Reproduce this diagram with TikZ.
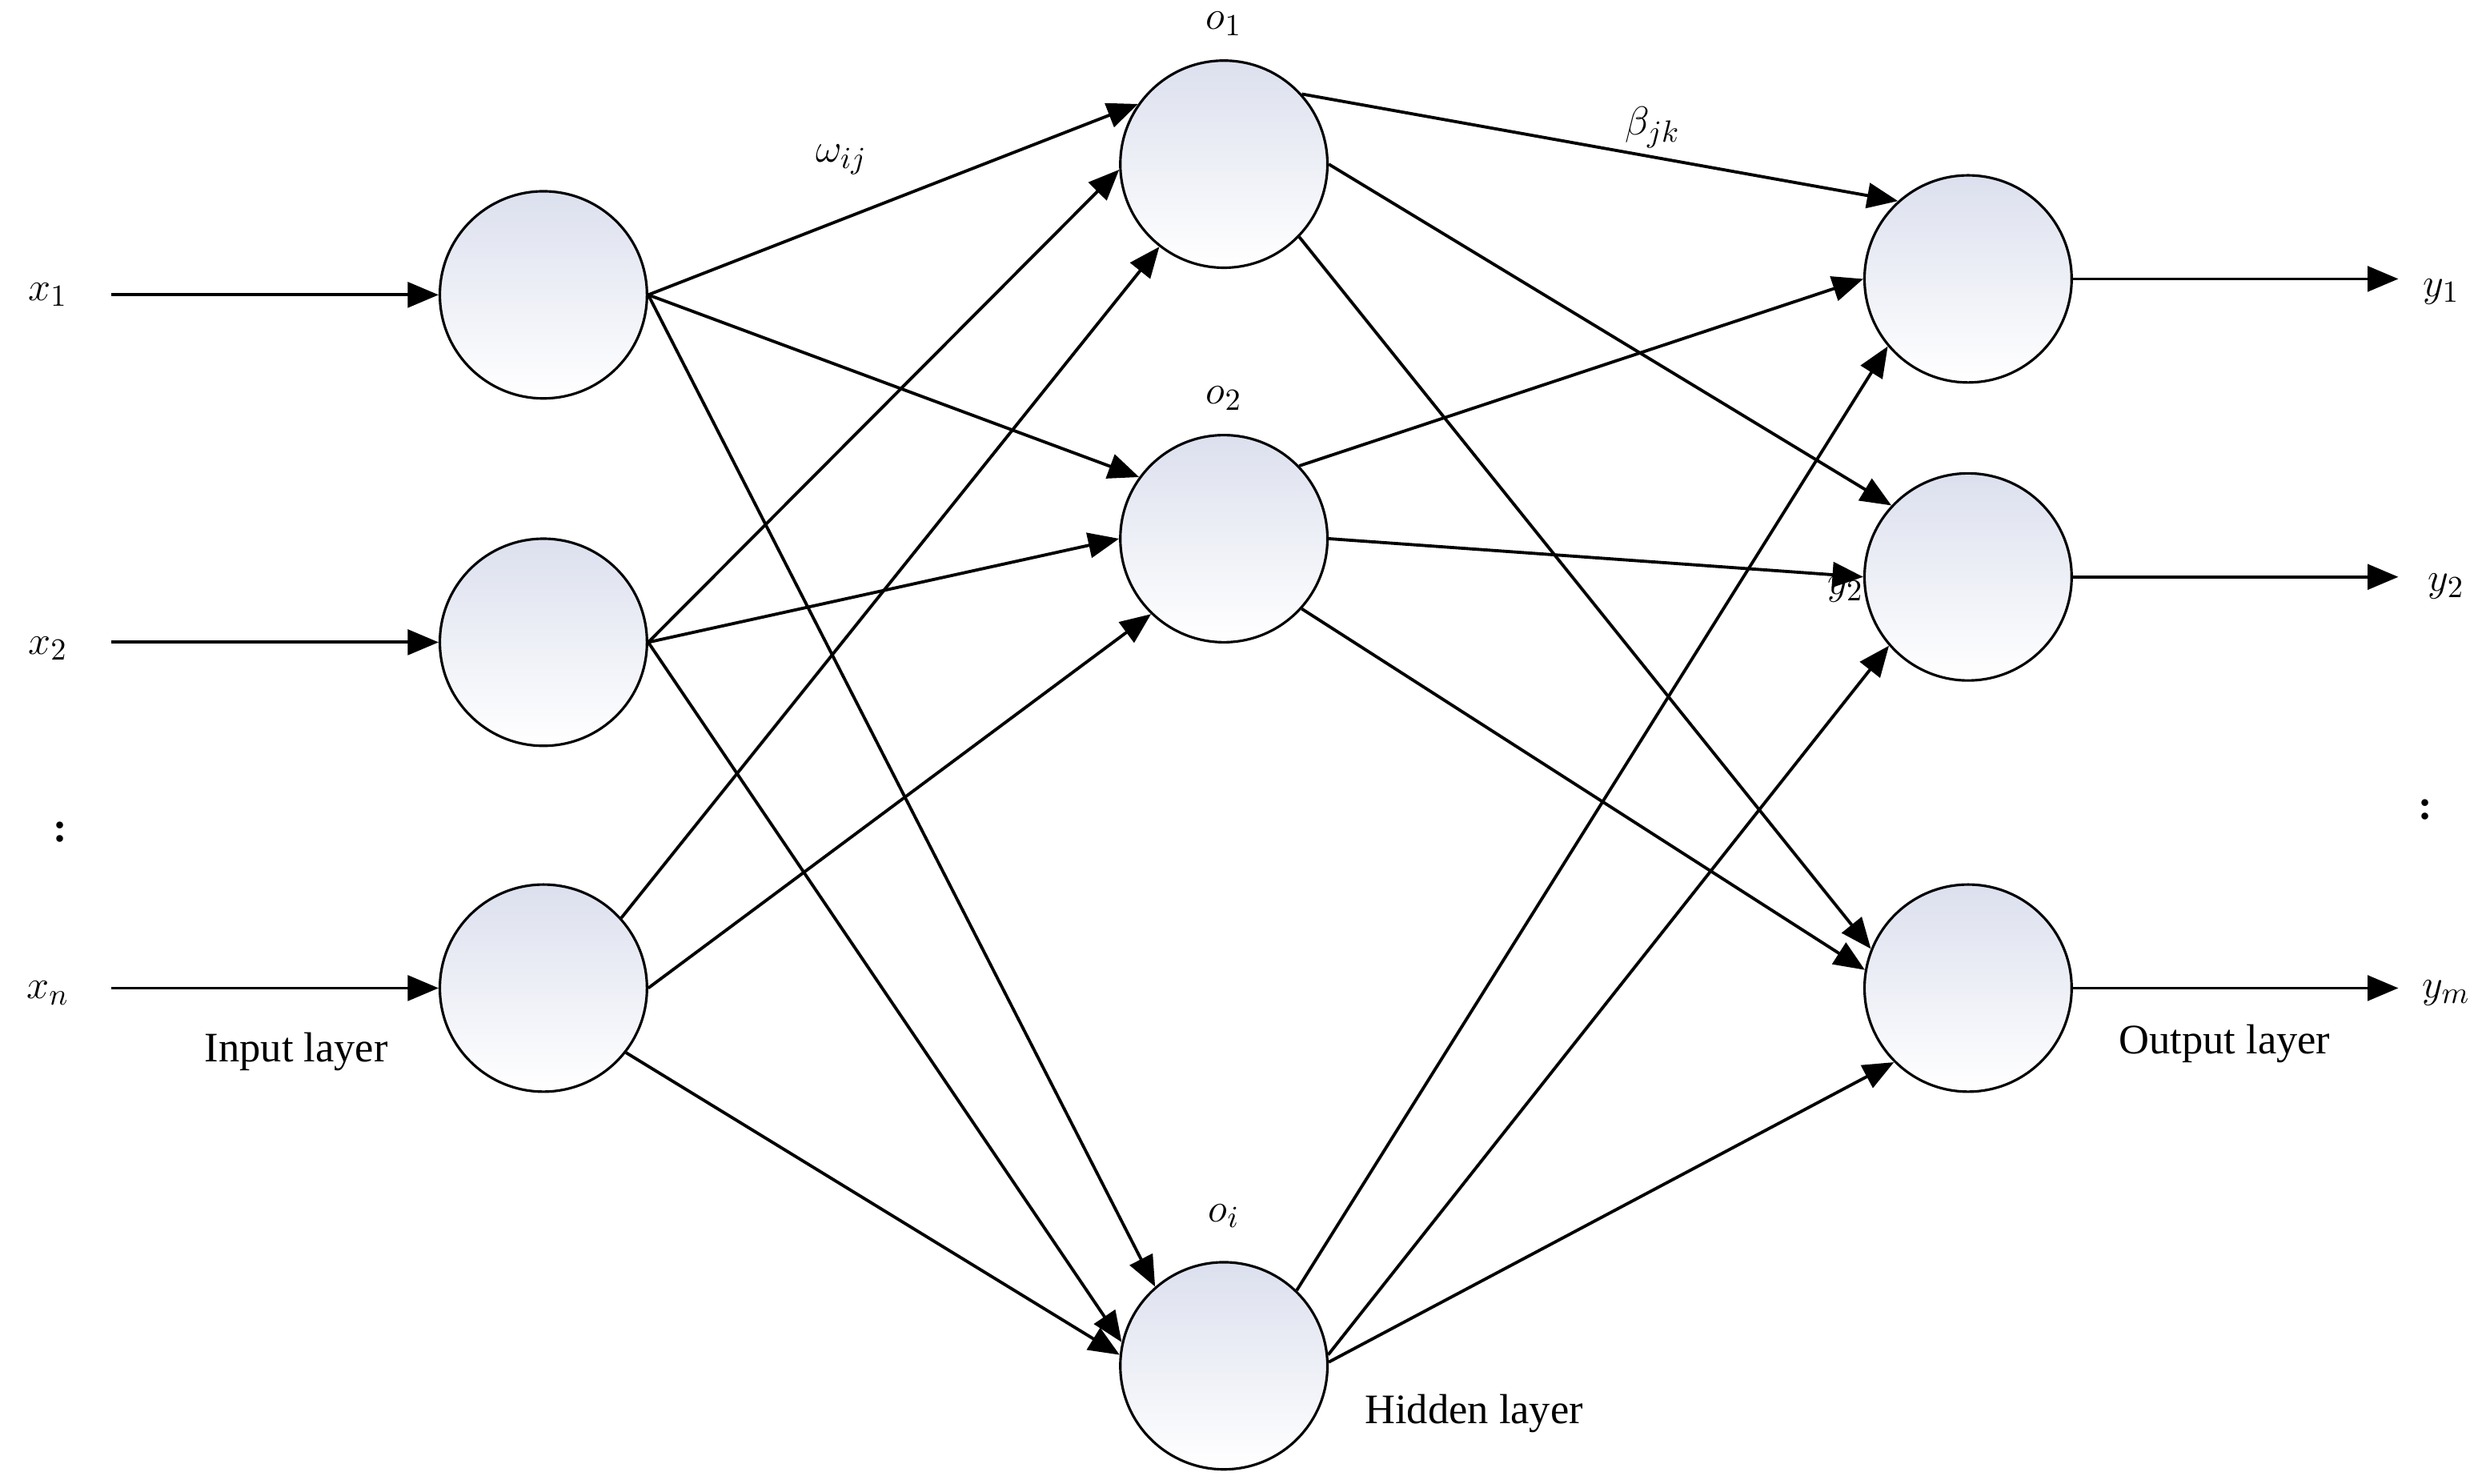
\documentclass[tikz,border=0pt]{standalone}
\usepackage{fontspec}
\setmainfont{Liberation Serif}
\usetikzlibrary{arrows.meta}
\definecolor{topc}{RGB}{220,224,238}
\begin{document}
\begin{tikzpicture}[x=0.02cm,y=-0.02cm,
  neuron/.style={circle,draw=black,line width=0.9pt,minimum size=2.6cm,inner sep=0pt,top color=topc,bottom color=white},
  conn/.style={line width=1.1pt,-{Triangle[length=11pt,width=9pt]}},
  every node/.append style={font=\fontsize{15}{18}\selectfont}]
\useasboundingbox (0,0) rectangle (1560,931);
\node[neuron] (i1) at (341,185) {};
\node[neuron] (i2) at (341,403) {};
\node[neuron] (i3) at (341,620) {};
\node[neuron] (h1) at (768,103) {};
\node[neuron] (h2) at (768,338) {};
\node[neuron] (h3) at (768,857) {};
\node[neuron] (o1) at (1235,175) {};
\node[neuron] (o2) at (1235,362) {};
\node[neuron] (o3) at (1235,620) {};
\node (x1) at (30,185) {$x_1$};
\node (x2) at (30,407) {$x_2$};
\node (xn) at (30,623) {$x_n$};
\node at (38,522) {\textbf{:}};
\node at (1522,508) {\textbf{:}};
\coordinate (a1) at (70,185); \coordinate (a2) at (70,403); \coordinate (a3) at (70,620);
\draw[conn] (a1) -- (i1); \draw[conn] (a2) -- (i2); \draw[conn] (a3) -- (i3);
\coordinate (b1) at (1505,175); \coordinate (b2) at (1505,362); \coordinate (b3) at (1505,620);
\draw[conn] (o1) -- (b1); \draw[conn] (o2) -- (b2); \draw[conn] (o3) -- (b3);
\node (y1) at (1532,183) {$y_1$};
\node (y2) at (1535,368) {$y_2$};
\node (ym) at (1535,623) {$y_m$};
% input -> hidden
\draw[conn] (i1.east) -- (h1.145);
\draw[conn] (i1.east) -- (h2.144);
\draw[conn] (i1.east) -- (h3.131);
\draw[conn] (i2.east) -- (h1.183);
\draw[conn] (i2.east) -- (h2.180);
\draw[conn] (i2.east) -- (h3.167);
\draw[conn] (i3.42) -- (h1.232);
\draw[conn] (i3.east) -- (h2.226);
\draw[conn] (i3.322) -- (h3.174);
% hidden -> output
\draw[conn] (h1.42) -- (o1.132);
\draw[conn] (h1.east) -- (o2.137);
\draw[conn] (h1.316) -- (o3.158);
\draw[conn] (h2.44) -- (o1.180);
\draw[conn] (h2.east) -- (o2.180);
\draw[conn] (h2.318) -- (o3.170);
\draw[conn] (h3.46) -- (o1.220);
\draw[conn] (h3.6) -- (o2.221);
\draw[conn] (h3.2) -- (o3.225);
\node (lo1) at (768,15) {$o_1$};
\node (lo2) at (768,250) {$o_2$};
\node (loi) at (768,763) {$o_i$};
\node (w) at (528,100) {$\omega_{ij}$};
\node (bjk) at (1037,80) {$\beta_{jk}$};
\node (y2s) at (1158,370) {$y_2$};
\node (il) at (186,660) {Input layer};
\node (hl) at (925,887) {Hidden layer};
\node (ol) at (1396,655) {Output layer};
\end{tikzpicture}
\end{document}
